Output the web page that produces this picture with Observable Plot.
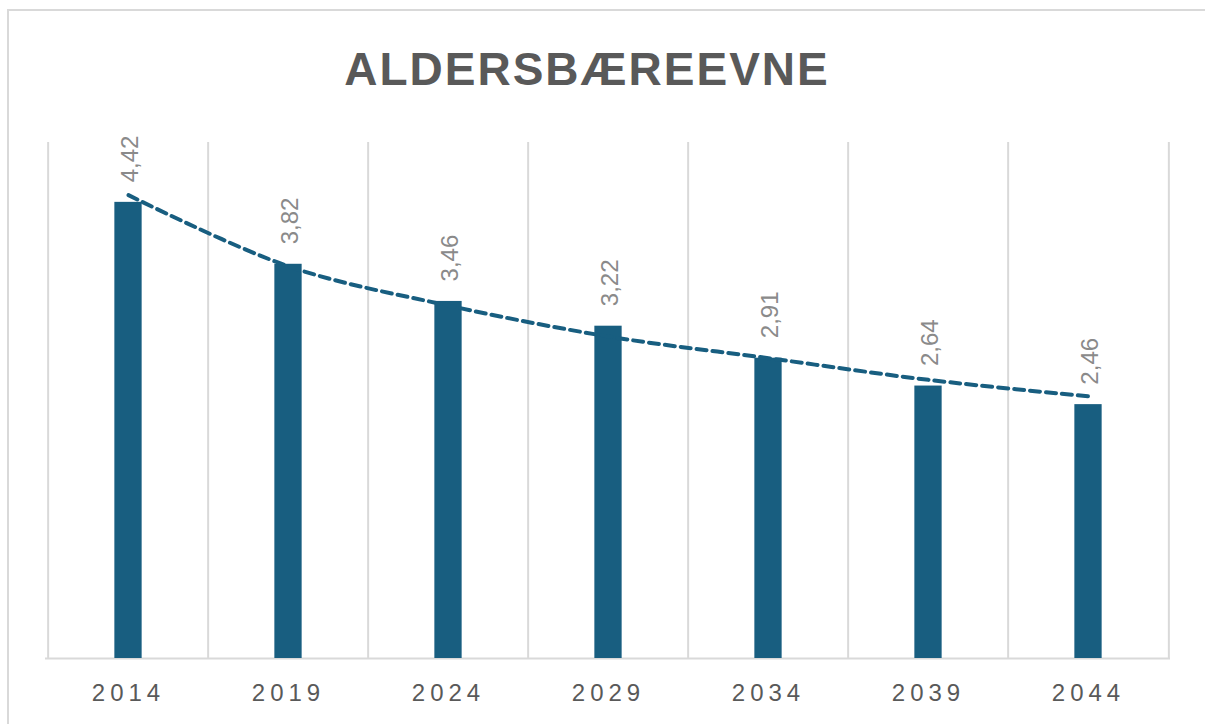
<!DOCTYPE html>
<html><head><meta charset="utf-8">
<script src="https://cdn.jsdelivr.net/npm/d3@7"></script>
<script src="https://cdn.jsdelivr.net/npm/@observablehq/plot@0.6"></script>
<style>
html,body{margin:0;padding:0;background:#fff;}
body{width:1205px;height:724px;overflow:hidden;position:relative;font-family:"Liberation Sans",Arial,sans-serif;}
#frame{position:absolute;left:7px;top:9px;width:1230px;height:760px;border:2px solid #d9d9d9;box-sizing:border-box;z-index:5;pointer-events:none;background:transparent;}
#title{position:absolute;left:587px;top:46px;transform:translateX(-50%);font-size:46px;line-height:46px;font-weight:bold;color:#595959;letter-spacing:2px;white-space:nowrap;}
#chart{position:absolute;left:0;top:120px;}
#chart g[aria-label="x-axis tick label"] text{letter-spacing:5px;}
</style></head>
<body>
<div id="frame"></div>
<div id="title">ALDERSBÆREEVNE</div>
<div id="chart"></div>
<script>
const years = ["2014","2019","2024","2029","2034","2039","2044"];
const values = [4.42,3.82,3.46,3.22,2.91,2.64,2.46];
const trend = [4.49,3.80,3.42,3.12,2.91,2.70,2.54];

const W = 1205, H = 604, ML = 45, MR = 35, MT = 22, MB = 66;
const bw = (W - ML - MR) / years.length;
const barW = 28;
const blue = "#185e80";
const data = years.map((y, i) => ({year: y, value: values[i], trend: trend[i]}));

const chart = Plot.plot({
  width: W, height: H,
  marginLeft: ML, marginRight: MR, marginTop: MT, marginBottom: MB,
  style: {background: "transparent", fontFamily: "'Liberation Sans', Arial, sans-serif", overflow: "visible"},
  x: {domain: years, padding: 0, label: null},
  y: {domain: [0, 5], axis: null},
  marks: [
    Plot.ruleX(years, {x: d => d, dx: -bw / 2, y1: 0, y2: 5, stroke: "#d9d9d9", strokeWidth: 2, strokeOpacity: 1}),
    Plot.ruleX(years.slice(-1), {x: d => d, dx: bw / 2, y1: 0, y2: 5, stroke: "#d9d9d9", strokeWidth: 2, strokeOpacity: 1}),
    Plot.ruleY([0], {stroke: "#d9d9d9", strokeWidth: 2, strokeOpacity: 1}),
    Plot.barY(data, {x: "year", y: "value", fill: blue, insetLeft: (bw - barW) / 2, insetRight: (bw - barW) / 2}),
    Plot.lineY(data, {x: "year", y: "trend", stroke: blue, strokeWidth: 4, strokeDasharray: "10,6", curve: "catmull-rom"}),
    Plot.text(data, {x: "year", y: "value", text: d => d.value.toFixed(2).replace(".", ","), rotate: -90, textAnchor: "start", dy: -20, dx: 2, fontSize: 24, fill: "#8a8a8a"}),
    Plot.axisX({tickSize: 0, tickPadding: 25, fontSize: 24, fill: "#595959", label: null})
  ]
});
document.getElementById("chart").appendChild(chart);
</script>
</body></html>
